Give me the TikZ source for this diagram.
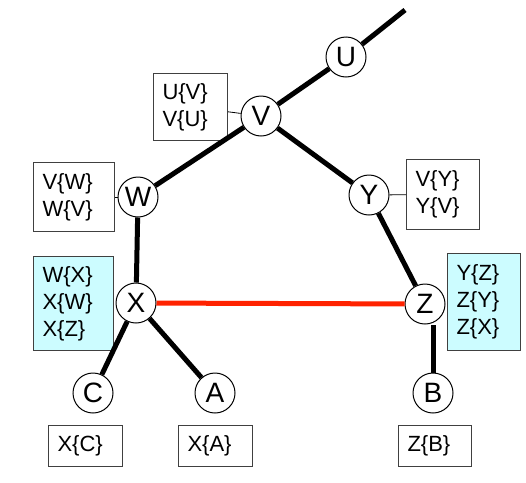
\documentclass[tikz,border=0pt]{standalone}
\usepackage{fontspec}
\setmainfont{Liberation Sans}
\definecolor{tabcyan}{HTML}{CCFCFF}
\definecolor{cutred}{HTML}{FF2200}

\begin{document}
\begin{tikzpicture}[x=1pt, y=-1pt, main/.style = {draw,line width=1pt,circle,fill=white,minimum size=40pt,inner sep=0pt,font=\fontsize{28}{28}\selectfont},
		tab/.style = {draw=black!75,line width=1pt,fill=white,anchor=north west,inner xsep=9pt,inner ysep=0pt,align=left,font=\fontsize{22}{27}\selectfont},
		link/.style = {line width=5pt}]
		\useasboundingbox (0,0) rectangle (526,482);
		%Tree nodes
		\coordinate (top) at (405,10);
		\node[main] (U) at (346,57) {U};
		\node[main] (V) at (261,116) {V};
		\node[main] (W) at (138,197) {W};
		\node[main] (Y) at (369,195) {Y};
		\node[main] (X) at (136,303) {X};
		\node[main] (Z) at (425,304) {Z};
		\node[main] (C) at (93,393) {C};
		\node[main] (A) at (215,393) {A};
		\node[main] (B) at (433,393) {B};
		
		%Tables next to the nodes
		\node[tab, text width=56pt, minimum height=67pt] (tV) at (153,73) {U\{V\}\\V\{U\}};
		\node[tab, text width=63pt, minimum height=69pt] (tW) at (33,162) {V\{W\}\\W\{V\}};
		\node[tab, text width=62pt, minimum height=94pt, fill=tabcyan] (tX) at (33,256) {W\{X\}\\X\{W\}\\X\{Z\}};
		\node[tab, text width=55pt, minimum height=70pt] (tY) at (406,159) {V\{Y\}\\Y\{V\}};
		\node[tab, text width=55pt, minimum height=97pt, fill=tabcyan] (tZ) at (447,253) {Y\{Z\}\\Z\{Y\}\\Z\{X\}};
		\node[tab, text width=56pt, minimum height=41pt] (tC) at (48,425) {X\{C\}};
		\node[tab, text width=56pt, minimum height=41pt] (tA) at (178,425) {X\{A\}};
		\node[tab, text width=55pt, minimum height=41pt] (tB) at (398,425) {Z\{B\}};
		
		%Tree edges
		\path [link] (top) edge (U); 	%Edge top -> U
		\path [link] (U) edge (V); 	%Edge U -> V
		\path [link] (V) edge (W); 	%Edge V -> W
		\path [link] (V) edge (Y); 	%Edge V -> Y
		\path [link] (W) edge (X); 	%Edge W -> X
		\path [link] (Y) edge (Z); 	%Edge Y -> Z
		\path [link] (X) edge (C); 	%Edge X -> C
		\path [link] (X) edge (A); 	%Edge X -> A
		\path [link] (B) edge (B |- Z.south); 	%Edge Z -> B
		
		%Cross edge
		\draw[link,cutred] (X) -- (Z); %Edge X -- Z
		
		%Table pointers
		\draw[line width=0.8pt] (tV) -- (V);
		\draw[line width=0.8pt] (tW) -- (W);
		\draw[line width=0.8pt] (tY) -- (Y);
	\end{tikzpicture}
\end{document}
